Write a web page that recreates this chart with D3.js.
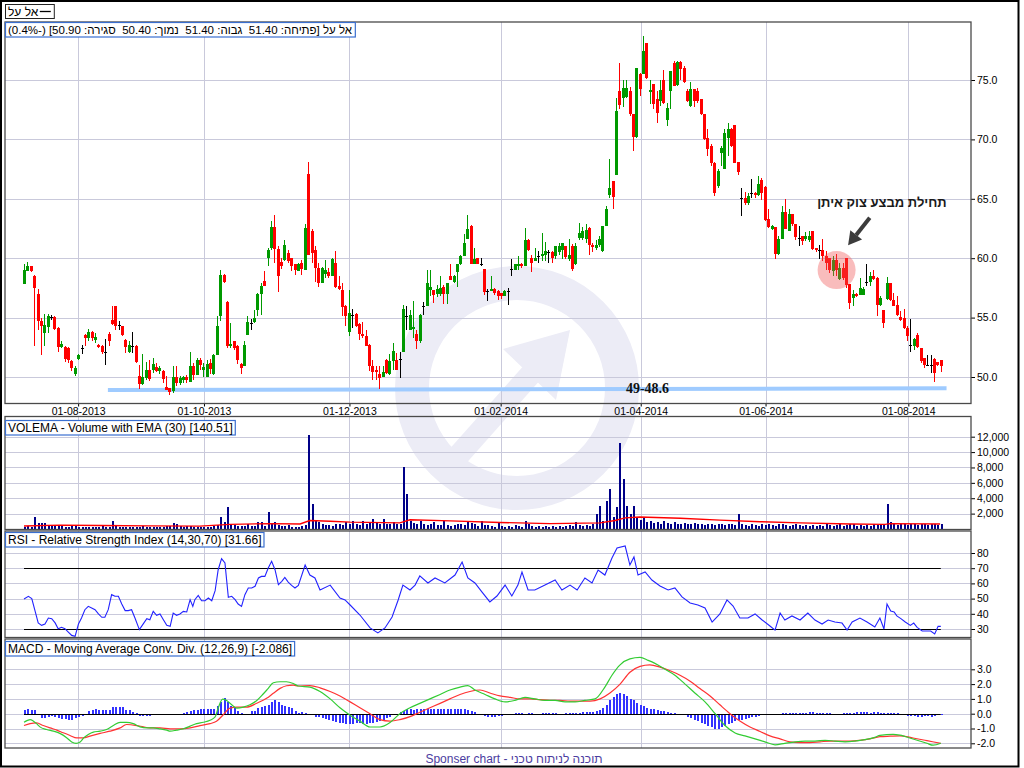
<!DOCTYPE html>
<html><head><meta charset="utf-8">
<script src="https://cdn.jsdelivr.net/npm/d3@7"></script>
<style>
body{margin:0;background:#fff}
svg{display:block}
text{font-family:"Liberation Sans",Arial,sans-serif}
</style>
</head><body><svg id="c" width="1024" height="768"></svg>
<script>
// ---------------- DATA ----------------
const openP=[
57.87,58.9,59.38,58.54,57.0,54.69,53.71,54.21,55.06,55.06,
54.13,52.53,52.53,52.47,51.35,50.28,51.52,52.44,53.54,53.26,
53.82,53.15,52.72,52.64,52.13,53.65,54.83,56.01,54.35,54.27,
53.15,52.08,52.58,52.64,50.11,49.38,49.92,50.56,50.62,50.81,
50.53,50.53,49.13,49.04,48.79,50.0,49.49,49.78,50.0,49.55,
50.96,50.17,51.46,50.56,50.0,51.18,50.28,51.88,55.11,58.62,
56.29,52.58,53.03,52.64,51.12,50.9,53.57,54.55,54.61,55.67,
57.02,58.06,60.03,60.87,62.61,60.79,59.66,59.83,60.45,60.03,
59.47,58.9,59.6,58.99,67.05,62.28,60.73,59.19,57.92,58.71,
58.82,58.54,59.6,57.7,57.36,56.01,53.76,55.2,55.34,54.47,
53.65,53.48,52.72,50.96,50.62,50.28,50.0,51.46,50.28,51.32,
51.46,51.55,52.08,55.11,53.99,54.0,53.62,53.0,55.95,55.95,
57.36,57.3,57.02,57.02,57.55,57.02,58.54,57.98,58.82,59.47,
60.22,61.63,62.75,59.55,60.0,59.55,59.05,57.27,57.22,57.42,
57.22,57.05,56.8,57.22,59.1,59.04,59.33,59.47,59.33,61.57,
60.03,59.8,60.17,60.17,60.28,60.5,60.5,60.17,60.5,60.7,
61.0,59.9,61.0,59.47,61.7,61.7,61.6,62.56,61.07,60.9,
61.15,60.59,62.75,65.28,66.49,66.97,74.07,73.51,73.6,74.07,
72.1,70.22,75.48,75.48,78.15,74.0,74.63,73.37,73.23,75.04,
71.63,74.07,76.46,74.6,76.52,76.04,74.07,72.81,74.27,74.07,
73.37,72.1,70.14,69.44,68.03,66.07,68.88,67.53,70.14,70.84,
71.18,68.09,65.08,65.08,64.66,65.5,65.5,65.28,66.57,66.01,
63.26,62.47,62.64,60.39,61.63,63.88,62.33,63.76,62.84,61.71,
61.85,61.63,61.57,62.28,60.87,60.73,60.73,60.17,60.03,58.9,
59.89,58.26,59.2,60.03,57.87,56.66,57.02,56.94,56.94,57.98,
57.98,58.54,58.34,56.1,55.67,56.57,57.92,56.52,56.1,55.06,
54.97,54.13,52.72,52.64,53.57,52.44,51.6,51.04,51.0,51.52,
51.24,51.4];
const highP=[
59.47,59.69,59.38,58.6,57.4,54.97,55.34,55.34,55.2,55.1,
54.2,53.0,52.6,52.5,51.46,50.9,51.97,52.72,53.6,54.07,
53.9,53.7,52.8,52.7,53.23,53.76,55.95,56.01,54.69,54.3,
53.2,53.0,53.82,52.7,51.04,51.97,51.24,51.46,51.6,51.18,
50.96,50.6,50.06,49.1,50.9,50.9,50.06,50.1,50.2,52.08,
51.18,51.6,51.6,51.18,51.4,51.52,51.97,55.11,58.99,58.7,
56.38,54.55,53.05,52.7,51.2,53.0,55.11,54.89,55.67,57.1,
57.92,58.9,60.87,63.12,63.6,61.0,60.03,61.52,60.73,60.03,
59.5,59.6,59.89,62.84,68.09,62.47,61.0,59.6,59.3,59.83,
59.19,60.03,60.59,58.48,57.92,56.1,57.36,55.73,55.39,54.55,
54.61,53.99,52.8,51.46,50.9,50.9,50.9,51.5,51.97,52.86,
52.0,52.08,56.1,55.95,55.67,56.38,53.99,55.3,56.29,58.99,
58.99,57.36,57.78,58.48,57.78,57.95,59.47,58.6,59.5,60.3,
62.0,63.6,62.8,60.87,60.03,60.03,59.05,57.42,58.54,57.5,
57.3,57.1,57.3,57.5,59.94,59.5,60.17,59.6,62.56,61.6,
60.31,60.87,60.59,62.08,61.4,60.67,60.6,61.0,61.3,61.3,
61.0,61.6,61.2,61.3,62.98,62.6,62.9,62.6,61.3,61.5,
61.85,62.75,64.38,68.37,66.5,73.51,76.46,75.04,75.0,74.4,
72.1,76.04,75.6,78.71,78.15,75.04,74.63,74.07,75.04,75.84,
73.09,75.76,76.6,76.6,76.6,76.18,74.21,74.83,74.27,74.35,
73.37,72.1,70.9,69.58,68.09,67.47,69.44,70.84,71.35,70.98,
71.18,68.09,65.93,65.56,65.5,66.63,65.6,66.91,66.77,66.07,
64.1,62.8,62.64,61.85,64.38,65.0,64.1,63.76,62.92,62.7,
61.85,62.19,62.3,62.28,60.9,61.15,61.63,60.6,60.03,60.17,
60.39,59.6,59.6,60.03,57.87,57.36,57.1,58.34,57.6,59.47,
58.82,59.04,58.43,56.8,55.67,58.43,57.92,57.08,56.8,55.53,
55.73,54.27,54.89,53.29,53.7,52.44,51.6,51.88,51.88,51.6,
51.3,51.4];
const lowP=[
57.87,58.9,58.8,52.58,53.99,51.88,52.58,53.7,54.8,53.99,
52.08,52.44,51.3,51.18,50.48,50.06,51.46,51.97,52.58,53.0,
53.0,52.86,52.4,51.97,50.98,52.64,54.41,53.99,53.99,53.48,
52.02,52.02,52.02,51.18,48.99,49.35,49.78,49.63,50.34,50.39,
50.28,49.49,48.9,48.48,48.65,49.21,49.35,49.5,49.49,49.55,
49.78,50.17,50.62,50.0,50.0,50.28,50.2,51.88,54.69,57.9,
52.44,52.42,52.3,51.12,50.28,50.9,53.5,53.99,54.55,55.11,
55.25,57.64,59.33,60.73,59.6,57.13,59.1,59.75,59.6,58.9,
58.62,58.9,58.62,58.99,60.31,59.6,57.98,57.58,57.9,58.34,
58.34,58.54,57.5,57.36,55.11,54.27,53.43,54.13,54.21,53.09,
53.29,52.58,50.48,49.78,49.78,48.99,50.0,50.28,50.2,50.62,
50.6,49.92,52.08,53.99,53.99,53.29,52.36,52.9,55.25,55.95,
56.8,56.24,56.74,56.8,56.18,56.18,58.15,57.9,57.58,59.4,
60.2,61.6,59.47,59.47,59.47,59.38,56.94,56.38,57.2,56.9,
56.46,56.6,56.8,56.1,58.54,59.0,59.04,59.19,59.33,60.59,
58.82,59.8,59.6,59.75,59.8,59.6,59.6,59.9,60.3,59.9,
59.9,59.8,58.9,59.4,61.57,61.5,61.3,60.31,60.5,60.7,
60.93,60.5,62.7,65.1,64.1,66.97,72.6,72.76,73.5,72.0,
69.02,70.14,73.65,75.48,75.1,72.95,72.53,71.4,72.81,72.95,
71.12,72.53,74.49,74.49,75.04,74.77,73.15,72.76,72.76,73.09,
72.02,69.94,68.6,67.75,65.22,65.93,67.75,67.47,68.6,69.38,
67.98,66.97,63.54,64.52,64.52,65.08,65.1,65.22,64.94,63.12,
62.56,62.4,59.94,60.31,61.63,62.42,62.28,62.7,61.57,61.0,
61.07,61.43,61.4,60.67,60.5,59.94,59.75,59.04,58.76,58.54,
58.48,58.2,58.2,57.5,55.73,55.95,56.7,56.94,56.9,57.7,
57.64,58.2,55.17,56.0,54.13,56.46,56.38,55.95,55.17,54.69,
54.04,53.0,52.08,52.3,52.44,51.18,50.76,50.9,50.34,49.55,
50.9,50.4];
const closeP=[
58.99,59.38,58.93,57.47,54.69,54.27,54.41,55.11,55.06,54.07,
52.53,52.81,51.52,51.4,50.76,50.76,51.88,52.44,53.26,53.82,
53.26,53.34,52.53,52.08,52.13,53.0,54.49,54.33,54.35,53.54,
52.5,52.67,52.58,51.29,49.38,49.97,50.56,49.83,51.12,50.53,
50.79,49.83,48.93,48.71,50.0,49.49,49.92,50.0,49.72,50.96,
50.2,51.46,51.01,50.84,51.12,50.7,51.88,54.33,58.62,57.98,
52.58,52.81,52.44,51.4,50.73,52.72,54.61,54.55,54.97,57.02,
57.64,57.7,60.65,62.61,60.79,58.48,59.38,61.07,59.75,59.33,
58.99,59.47,59.1,62.56,60.31,60.45,59.19,57.92,59.19,58.99,
58.54,59.94,57.58,57.42,55.9,55.11,55.39,55.2,54.27,53.65,
53.43,52.64,50.9,50.39,50.39,49.92,50.39,50.34,51.32,52.16,
50.62,51.55,55.76,55.11,55.25,54.2,53.0,55.25,55.95,57.92,
57.55,56.89,57.42,57.5,57.02,57.92,58.2,58.54,59.47,60.22,
61.24,62.5,59.55,59.94,59.55,59.55,57.13,57.27,57.42,57.08,
56.8,56.8,57.22,57.22,59.1,59.47,59.47,59.33,61.57,60.67,
59.6,60.03,60.17,60.39,60.62,60.5,60.0,61.0,61.0,61.3,
60.1,60.3,59.1,61.0,62.13,62.28,62.4,61.07,60.96,61.15,
61.63,62.75,64.16,65.93,65.17,72.39,72.87,74.35,74.3,72.1,
70.22,76.04,74.21,77.44,75.2,74.2,72.95,72.19,74.2,73.03,
72.67,75.76,74.49,76.52,75.95,74.83,73.23,74.27,73.23,73.23,
72.1,70.0,69.16,68.03,65.45,67.33,69.3,70.56,70.9,69.44,
68.03,67.25,65.08,64.66,65.22,65.5,65.28,66.21,65.45,63.2,
62.64,62.7,60.39,61.63,63.88,62.47,63.76,62.84,61.8,61.71,
61.43,61.85,61.9,60.79,60.7,60.73,60.17,59.6,59.04,59.89,
58.99,59.19,58.3,57.78,56.24,57.02,56.85,57.5,57.42,57.98,
58.54,58.26,56.1,56.66,54.55,57.92,56.46,56.01,55.25,54.83,
54.13,53.43,52.72,53.2,52.53,51.32,51.04,51.04,51.0,50.34,
51.04,50.9];

const volume=[
300,350,250,1590,810,810,810,390,520,520,
390,390,300,300,390,390,300,250,250,250,
250,250,250,390,250,250,1070,520,300,300,
300,300,250,300,300,390,250,250,250,250,
300,300,390,390,770,650,390,300,390,390,
300,300,300,300,300,300,390,520,1590,940,
2840,520,520,390,390,390,710,390,390,940,
940,390,2230,810,940,520,390,390,520,300,
300,300,400,500,12200,3300,1200,900,700,500,
500,400,600,700,500,900,700,1000,600,500,
1000,600,800,1300,800,600,1300,700,600,900,
700,600,8000,4500,1000,800,600,1000,700,500,
700,900,500,500,1000,500,400,500,600,700,
500,1000,800,600,400,1000,500,500,400,300,
900,400,300,400,300,500,400,300,1000,600,
400,300,400,300,400,300,400,300,400,300,
400,500,400,900,500,400,500,400,700,2000,
3000,1000,3600,5200,1500,2800,11200,6500,3000,2000,
3000,1500,1200,1600,900,1000,800,900,700,1000,
800,700,900,700,600,800,700,600,800,700,
600,500,700,600,500,700,600,500,700,600,
500,1900,600,500,400,600,500,400,600,500,
700,500,400,600,700,500,400,500,700,500,
400,500,400,500,400,500,400,700,500,400,
500,600,400,500,600,700,400,500,400,500,
400,600,500,700,500,3300,900,600,500,600,
700,500,600,700,500,600,700,500,600,700,
500,600];
// volume EMA(30): [candle index, value]
const volEma=[[0,390],[10.6,500],[22.5,450],[37.2,400],[52,380],[60.9,600],[72.7,700],[81.6,650],[84.5,1100],[90.5,1000],[96.4,900],[111.1,800],[114.1,1200],[126,1050],[140.7,850],[155.5,700],[170.3,800],[174.7,1100],[177.7,1450],[182,1560],[194,1400],[205.7,1150],[217.6,950],[229.4,800],[244.2,650],[254.5,600],[256,700],[270.8,650]];

// RSI(14): [candle index, value]
const rsi=[[0,49.7],[1.3,51.5],[2.3,50],[3.3,41.6],[4.2,34],[5.2,32.4],[6.2,33.3],[7.2,37.2],[8.2,36.8],[9.2,34],[10.1,30.2],[11.1,31.1],[12.1,30.2],[13.1,28],[14.1,25.8],[15.1,25.2],[16.1,33.3],[17,37.2],[18,42.7],[19,44.9],[20,43.8],[21,42.7],[22,39.9],[23,37.7],[23.9,37.7],[24.9,42.7],[25.9,52.6],[26.9,51.5],[27.9,51.5],[28.9,46.4],[29.9,42.1],[30.8,42.1],[31.8,42.7],[32.8,37.2],[34.1,29.6],[35.1,32.9],[36.3,36.8],[37.2,36.1],[38.2,41.6],[39.2,39],[40.2,39.9],[41.2,36.1],[42.2,32.4],[43.2,31.8],[44.1,40.5],[45.1,39],[46.1,39.9],[47.1,41.6],[48.1,41.2],[49.1,49.3],[49.9,44.9],[50.5,49.3],[51.5,52.1],[52.5,48.6],[53.5,48.6],[54.5,50.4],[55.5,48.6],[56.5,55.2],[57.4,69],[58.4,76.3],[59.4,73.4],[60.4,50.8],[61.4,51.5],[62.4,49.3],[63.3,46.4],[64.3,44.9],[65.3,52.6],[66.3,57],[67.3,57],[68.3,58.1],[69.3,63.6],[70.2,64.6],[71.2,64.6],[72.2,70.1],[73.2,74.5],[74.2,69],[75.2,59.2],[76.2,61.4],[77.1,64],[78.1,60.9],[79.1,58.7],[80.1,57],[81.1,58.7],
[83.1,72.1],[84.5,65.5],[86,63.6],[87.5,55.7],[90.5,58.9],[93.4,50.4],[94.9,49.1],[96.4,45.8],[99.3,39.2],[102.3,30.7],[104.6,27.4],[106.7,30.7],[108.8,37.9],[110.6,49.1],[112,58.9],[114.1,55.7],[115.6,58.9],[117,64.9],[119.4,60.3],[121.5,63.6],[124.4,60.3],[127.4,65.5],[129.5,74.1],[131.2,63.6],[133.3,60.3],[135.4,54.3],[137.7,47.8],[139.8,51.7],[142.2,58.9],[144.2,51.7],[146,58.9],[147.2,67.5],[149,55.7],[151,55.7],[154,58.9],[157,62.2],[159,55.7],[161.4,58.9],[163.5,55.7],[165.8,63.6],[167.9,60.3],[169.7,68.8],[171.7,65.5],[173.8,76.7],[175.3,83.3],[177.7,84.6],[179.1,72.1],[180.3,77.4],[181.5,65.5],[183.6,67.5],[185.6,62.2],[188,58.3],[190.4,55.7],[192.4,57],[194.5,51.1],[196.9,47.1],[199.2,45.8],[201.3,43.8],[203.4,34.6],[205.7,39.9],[207.8,49.1],[209.6,45.1],[211.6,37.2],[214,37.2],[216.1,39.9],[218.2,35.9],[220.5,32],[222,29.3],[223.5,40.5],[224.9,35.9],[227,38.6],[229.4,35.9],[231.7,40.5],[233.8,35.9],[235.9,33.3],[237.7,35.9],[239.7,34.6],[241.8,33.9],[243.3,29.3],[244.8,34.6],[247.1,37.2],[249.2,34.6],[251.5,31.3],[253,37.2],[254.2,30],[255.1,46.4],[256.2,41.8],[257.2,41.2],[258,38.6],[259.2,36.8],[260.5,34.6],[262,32.4],[263,33.9],[264,31.1],[265.5,28.7],[268,28.7],[269.2,26.7],[270.2,31.8],[271,31.7]];

// MACD(12,26,9): [candle index, value]
const macdLine=[[0,-0.58],[1.8,-0.4],[2.8,-0.51],[3.7,-0.67],[4.7,-0.89],[6.7,-1.07],[8.7,-1.18],[10.6,-1.33],[12.6,-1.62],[14.1,-1.91],[15.4,-2.0],[16.6,-1.91],[17.7,-1.62],[19,-1.4],[20.5,-1.24],[22.5,-1.18],[24.4,-1.07],[26.4,-0.8],[28.4,-0.58],[30.3,-0.58],[32.3,-0.67],[34.3,-0.89],[36.3,-0.96],[38.2,-0.96],[40.2,-1.02],[42.2,-1.11],[43.2,-1.18],[45.1,-1.11],[47.1,-1.02],[49.1,-0.84],[51,-0.67],[53,-0.58],[55,-0.44],[56.5,-0.22],[57.4,0.38],[58.7,0.98],[59.9,0.89],[61.4,0.6],[62.9,0.38],[64.8,0.44],[66.8,0.6],[68.8,0.89],[70.7,1.33],[72.2,1.71],[73.7,2.09],[75.7,2.16],[77.6,2.16],[79.6,2.04],[81.1,1.87],
[84.5,1.8],[87.5,1.5],[90.5,1.0],[93.4,0.4],[96.4,-0.1],[99.3,-0.5],[102.3,-0.9],[105.2,-0.9],[108.2,-0.6],[111.1,0.0],[114.1,0.4],[117,0.7],[120,1.0],[123,1.3],[125.9,1.6],[128.9,1.8],[131.2,1.9],[133.3,1.6],[136.3,1.3],[139.2,1.0],[142.2,0.8],[145.1,0.9],[148.1,1.1],[151,1.0],[154,0.9],[157,0.9],[159.9,0.8],[162.9,0.8],[165.8,0.9],[168.8,1.0],[171.7,1.8],[173.8,2.6],[176.2,3.3],[179.1,3.7],[182.1,3.8],[184.5,3.6],[186.5,3.4],[189.5,3.0],[192.4,2.6],[195.4,2.0],[198.3,1.4],[201.3,0.8],[204.3,0.0],[207.2,-0.8],[210.2,-1.3],[213.1,-1.5],[216.1,-1.7],[219,-1.9],[222,-2.1],[224.9,-2.0],[227.9,-1.9],[230.9,-1.85],[233.8,-1.85],[236.8,-1.8],[239.7,-1.85],[242.7,-1.9],[245.6,-1.85],[248.6,-1.75],[251.5,-1.6],[253,-1.47],[256.9,-1.4],[258.9,-1.45],[262.8,-1.71],[266.9,-2.0],[268.7,-2.13],[271,-2.0]];
const signalLine=[[0,-0.8],[1.8,-0.67],[3.7,-0.62],[5.7,-0.8],[7.7,-0.96],[9.7,-1.11],[11.6,-1.29],[13.6,-1.47],[15.6,-1.64],[17.5,-1.64],[19.5,-1.51],[22.5,-1.33],[25.4,-1.18],[28.4,-0.96],[30.3,-0.73],[33.3,-0.8],[35.3,-0.89],[37.2,-0.96],[40.2,-0.96],[43.2,-1.02],[46.1,-1.02],[49.1,-0.96],[52,-0.8],[55,-0.67],[56.9,-0.51],[58.9,-0.07],[60.9,0.38],[62.9,0.44],[65.8,0.44],[68.8,0.71],[71.7,1.04],[73.7,1.38],[75.7,1.71],[77.6,1.89],[79.6,1.93],[81.1,1.87],
[84.5,1.9],[87.5,1.75],[90.5,1.5],[93.4,1.2],[96.4,0.8],[99.3,0.4],[102.3,0.0],[105.2,-0.4],[108.2,-0.5],[111.1,-0.4],[114.1,-0.2],[117,0.1],[120,0.4],[123,0.7],[125.9,1.0],[128.9,1.3],[131.8,1.5],[134.8,1.6],[137.7,1.4],[140.7,1.2],[143.7,1.1],[146.6,1.0],[149.6,1.0],[152.5,0.95],[155.5,0.9],[158.4,0.9],[161.4,0.85],[164.3,0.85],[167.3,0.85],[170.3,1.0],[173.2,1.4],[176.2,2.0],[179.1,2.8],[182.1,3.2],[185,3.3],[188,3.15],[191,2.9],[193.9,2.6],[196.9,2.2],[199.8,1.7],[202.8,1.2],[205.7,0.6],[208.7,0.0],[211.6,-0.5],[214.6,-0.9],[217.6,-1.2],[220.5,-1.5],[223.5,-1.7],[226.4,-1.9],[229.4,-1.95],[232.3,-1.95],[235.3,-1.9],[238.3,-1.85],[241.2,-1.85],[244.2,-1.85],[247.1,-1.8],[250.1,-1.7],[253,-1.55],[256,-1.52],[258.9,-1.5],[262.8,-1.64],[266.9,-1.82],[271,-2.0]];
const macdHist=[
0.27,0.31,0.27,0.22,0,-0.29,-0.29,-0.24,-0.18,-0.24,
-0.29,-0.36,-0.36,-0.4,-0.4,-0.29,-0.22,-0.13,0,0.16,
0.27,0.31,0.27,0.22,0.22,0.27,0.42,0.44,0.44,0.42,
0.27,0.22,0.09,0.02,-0.13,-0.18,-0.13,-0.13,-0.07,0,
0,0,-0.07,-0.07,0,0,0,0.04,0.09,0.16,
0.22,0.27,0.31,0.31,0.31,0.31,0.31,0.53,0.76,1.04,
0.82,0.53,0.38,0.16,0.02,-0.07,0,0.16,0.16,0.38,
0.44,0.49,0.6,0.76,0.93,0.82,0.6,0.49,0.44,0.38,
0.16,0.04,0.1,0.05,0,-0.1,-0.2,-0.25,-0.3,-0.35,
-0.45,-0.5,-0.55,-0.6,-0.65,-0.7,-0.7,-0.7,-0.65,-0.65,
-0.7,-0.7,-0.65,-0.6,-0.55,-0.5,-0.4,-0.3,-0.2,-0.1,
0,0.1,0.2,0.3,0.3,0.25,0.3,0.3,0.3,0.35,
0.35,0.35,0.3,0.3,0.3,0.35,0.35,0.3,0.3,0.35,
0.3,0.25,0.2,0.1,0,-0.1,-0.15,-0.2,-0.2,-0.2,
-0.15,-0.15,-0.1,-0.05,0,0.05,0.05,0.05,0,0.05,
0.05,0,0,0.05,0.05,0.05,0.05,0.05,0,0,
0.05,0.05,0.05,0.05,0.05,0.1,0.1,0.1,0.1,0.15,
0.25,0.4,0.6,0.9,1.1,1.3,1.4,1.3,1.2,1.0,
0.9,0.7,0.6,0.5,0.4,0.35,0.3,0.25,0.2,0.15,
0.1,0.05,0.05,0,-0.05,-0.1,-0.2,-0.3,-0.4,-0.5,
-0.6,-0.7,-0.8,-0.9,-1.0,-1.0,-0.9,-0.8,-0.7,-0.6,
-0.5,-0.45,-0.4,-0.35,-0.3,-0.25,-0.2,-0.15,-0.1,-0.05,
-0.05,0,0,0,0.05,0.05,0.05,0.05,0.05,0.05,
0.05,0.05,0.1,0.1,0.05,0.05,0.05,0.05,0.05,0,
0,0,0.05,0.05,0.05,0.05,0.1,0.1,0.1,0.1,
0.05,0.1,0.1,0.07,0.07,0.07,0.07,0.07,0.05,0,
-0.1,-0.15,-0.18,-0.18,-0.2,-0.2,-0.18,-0.18,-0.2,-0.15,
-0.12,-0.1];

// axis ticks / labels
const dateTickIdx=[16,53.2,96.2,140.9,182.3,219.2,261.4];
const dateTickLabels=["01-08-2013","01-10-2013","01-12-2013","01-02-2014","01-04-2014","01-06-2014","01-08-2014"];
const priceTicks=[50,55,60,65,70,75];
const volTicks=[2000,4000,6000,8000,10000,12000];
const rsiTicks=[30,40,50,60,70,80];
const macdTicks=[-2,-1,0,1,2,3];
const rsiLevels=[30,70];

// annotations (data space)
const supportLine=[[24.8,48.9],[272.7,49.05]];
const supportLabel={idx:184.3,price:48.65,text:"49-48.6"};
const eventMark={idx:240.2,price:59.0};
const eventArrow={fromIdx:250,fromPrice:63.4,toIdx:243.6,toPrice:61.1};
const eventLabel={idx:253.6,price:64.31,text:"תחילת מבצע צוק איתן"};

const titleMain="אל על [פתיחה: 51.40  גבוה: 51.40  נמוך: 50.40  סגירה: 50.90] (-0.4%)";
const titleVol="VOLEMA - Volume with EMA (30) [140.51]";
const titleRsi="RSI - Relative Strength Index (14,30,70) [31.66]";
const titleMacd="MACD - Moving Average Conv. Div. (12,26,9) [-2.086]";
const legendName="אל על";
const credit="Sponser chart - תוכנה לניתוח טכני";

// ---------------- DRAW ----------------
const svg=d3.select("#c");
const loc=d3.formatLocale({decimal:".",thousands:",",grouping:[3],currency:["",""],minus:"-"});
const n=closeP.length;
const L=5,R=971;
const P={main:{t:22,b:403.5},vol:{t:416.5,b:529.5},rsi:{t:531,b:637.5},macd:{t:639,b:748}};
const x=d3.scaleLinear().domain([0,n-1]).range([24,940.8]);
const yP=d3.scaleLinear().domain([50,75]).range([377,80]);
const yV=d3.scaleLinear().domain([0,12000]).range([529,436.7]);
const yR=d3.scaleLinear().domain([30,80]).range([629,553]);
const yM=d3.scaleLinear().domain([-2,3]).range([743.3,669.3]);
const GRID="#c9c9db";
const WM="#ececf6";

svg.append("rect").attr("width",1024).attr("height",768).attr("fill","#fff");

// watermark logo
const wm=svg.append("g").attr("fill","none").attr("stroke",WM);
wm.append("circle").attr("cx",517).attr("cy",388).attr("r",105).attr("stroke-width",34);
wm.append("line").attr("x1",450).attr("y1",465).attr("x2",546).attr("y2",357).attr("stroke-width",22);
wm.append("path").attr("d","M570,330 L503,349 L556,400 Z").attr("fill",WM).attr("stroke","none");

function panel(p,y,ticks,fmt){
  const g=svg.append("g");
  g.selectAll("line.h").data(ticks).join("line").attr("x1",L).attr("x2",R)
    .attr("y1",d=>Math.round(y(d))+0.5).attr("y2",d=>Math.round(y(d))+0.5).attr("stroke",GRID);
  g.selectAll("line.v").data(dateTickIdx).join("line").attr("y1",p.t).attr("y2",p.b)
    .attr("x1",d=>Math.round(x(d))+0.5).attr("x2",d=>Math.round(x(d))+0.5).attr("stroke",GRID);
  const ax=svg.append("g").attr("transform",`translate(${R},0)`)
    .call(d3.axisRight(y).tickValues(ticks).tickFormat(fmt).tickSize(4).tickPadding(2));
  ax.select(".domain").remove();
  ax.attr("font-family","Liberation Sans, Arial, sans-serif").attr("font-size",10.5);
  ax.selectAll("text").attr("fill","#000");
  ax.selectAll("line").attr("stroke","#000");
}
panel(P.main,yP,priceTicks,loc.format(".1f"));
panel(P.vol,yV,volTicks,loc.format(","));
panel(P.rsi,yR,rsiTicks,loc.format("d"));
panel(P.macd,yM,macdTicks,loc.format(".1f"));

// date axis
const dax=svg.append("g").attr("transform",`translate(0,${P.main.b})`)
  .call(d3.axisBottom(x).tickValues(dateTickIdx).tickFormat((d,i)=>dateTickLabels[i]).tickSize(3).tickPadding(1));
dax.select(".domain").remove();
dax.attr("font-family","Liberation Sans, Arial, sans-serif").attr("font-size",10.5);
dax.selectAll("text").attr("fill","#000");
dax.selectAll("line").attr("stroke","#000");

// support line
svg.append("path").datum(supportLine).attr("fill","none").attr("stroke","#9fcbff").attr("stroke-width",4)
  .attr("d",d3.line().x(d=>x(d[0])).y(d=>yP(d[1])));

// candles
const col=i=>closeP[i]>openP[i]?"#009900":closeP[i]<openP[i]?"#ff0000":"#000000";
const cg=svg.append("g").attr("shape-rendering","crispEdges");
const idx=d3.range(n);
cg.selectAll("line").data(idx).join("line")
  .attr("x1",i=>Math.round(x(i))+0.5).attr("x2",i=>Math.round(x(i))+0.5)
  .attr("y1",i=>yP(highP[i])).attr("y2",i=>yP(lowP[i])).attr("stroke",col);
cg.selectAll("rect").data(idx).join("rect")
  .attr("x",i=>Math.round(x(i))-1).attr("width",3)
  .attr("y",i=>yP(Math.max(openP[i],closeP[i])))
  .attr("height",i=>Math.max(1,yP(Math.min(openP[i],closeP[i]))-yP(Math.max(openP[i],closeP[i]))))
  .attr("fill",col);

// event marker
svg.append("circle").attr("cx",x(eventMark.idx)).attr("cy",yP(eventMark.price)).attr("r",19)
  .attr("fill","rgba(238,80,80,0.38)");
{
  const x1=x(eventArrow.fromIdx),y1=yP(eventArrow.fromPrice),x2=x(eventArrow.toIdx),y2=yP(eventArrow.toPrice);
  const len=Math.hypot(x2-x1,y2-y1),ux=(x2-x1)/len,uy=(y2-y1)/len,px=-uy,py=ux;
  const bx=x2-ux*13,by=y2-uy*13;
  svg.append("line").attr("x1",x1).attr("y1",y1).attr("x2",bx).attr("y2",by).attr("stroke","#3c3c3c").attr("stroke-width",4);
  svg.append("path").attr("fill","#3c3c3c")
    .attr("d",`M${x2},${y2} L${bx+px*7.5},${by+py*7.5} L${bx-px*7.5},${by-py*7.5} Z`);
}
svg.append("text").attr("x",x(eventLabel.idx)).attr("y",yP(eventLabel.price)).attr("text-anchor","middle")
  .attr("direction","rtl").attr("font-weight","bold").attr("font-size",13).attr("fill","#1a1a1a").text(eventLabel.text);
svg.append("text").attr("x",x(supportLabel.idx)).attr("y",yP(supportLabel.price)).attr("text-anchor","middle")
  .style("font-family","'Liberation Serif','Times New Roman',serif").attr("font-weight","bold").attr("font-size",14).attr("fill","#111").text(supportLabel.text);

// volume
const vg=svg.append("g").attr("shape-rendering","crispEdges");
vg.selectAll("rect").data(idx).join("rect")
  .attr("x",i=>Math.round(x(i))-0.5).attr("width",2)
  .attr("y",i=>yV(volume[i])).attr("height",i=>yV(0)-yV(volume[i])).attr("fill","#000088");
svg.append("path").datum(volEma).attr("fill","none").attr("stroke","#ff0000").attr("stroke-width",1.4)
  .attr("d",d3.line().x(d=>x(d[0])).y(d=>yV(d[1])));

// RSI
svg.selectAll("line.lvl").data(rsiLevels).join("line").attr("x1",x(0)).attr("x2",x(n-1))
  .attr("y1",d=>Math.round(yR(d))+0.5).attr("y2",d=>Math.round(yR(d))+0.5).attr("stroke","#000");
svg.append("path").datum(rsi).attr("fill","none").attr("stroke","#2222ff").attr("stroke-width",1.1)
  .attr("d",d3.line().x(d=>x(d[0])).y(d=>yR(d[1])));

// MACD
const mg=svg.append("g").attr("shape-rendering","crispEdges");
mg.selectAll("rect").data(idx).join("rect")
  .attr("x",i=>Math.round(x(i))-0.5).attr("width",2)
  .attr("y",i=>Math.min(yM(0),yM(macdHist[i]))).attr("height",i=>Math.abs(yM(macdHist[i])-yM(0)))
  .attr("fill","#3333ff");
svg.append("line").attr("x1",x(0)).attr("x2",x(n-1)).attr("y1",Math.round(yM(0))+0.5).attr("y2",Math.round(yM(0))+0.5).attr("stroke","#000");
svg.append("path").datum(signalLine).attr("fill","none").attr("stroke","#ff3333").attr("stroke-width",1.2)
  .attr("d",d3.line().curve(d3.curveMonotoneX).x(d=>x(d[0])).y(d=>yM(d[1])));
svg.append("path").datum(macdLine).attr("fill","none").attr("stroke","#33cc33").attr("stroke-width",1.2)
  .attr("d",d3.line().curve(d3.curveMonotoneX).x(d=>x(d[0])).y(d=>yM(d[1])));

// panel borders
Object.values(P).forEach(p=>{
  svg.append("rect").attr("x",L).attr("y",p.t).attr("width",R-L).attr("height",p.b-p.t)
    .attr("fill","none").attr("stroke","#4a4a4a").attr("stroke-width",1.3);
});

// title boxes
function titleBox(str,yTop,rtl,fs){
  const g=svg.append("g");
  const r=g.append("rect");
  const t=g.append("text").attr("y",yTop+11.8).attr("font-size",fs).attr("fill","#000").style("white-space","pre").text(str);
  if(rtl) t.attr("direction","rtl").attr("text-anchor","middle").attr("x",200); else t.attr("x",8);
  const bb=t.node().getBBox();
  t.attr("transform",`translate(${8-bb.x},0)`);
  r.attr("x",5.5).attr("y",yTop+0.5).attr("width",bb.width+5).attr("height",14.5)
   .attr("fill","#fff").attr("stroke","#3a6fd0").attr("stroke-width",1.2);
}
titleBox(titleMain,22,true,11.5);
titleBox(titleVol,420,false,12);
titleBox(titleRsi,532,false,12);
titleBox(titleMacd,641,false,12);

// legend box top-left
{
  const g=svg.append("g");
  const r=g.append("rect");
  const t=g.append("text").attr("y",16).attr("font-size",12).attr("direction","rtl").attr("text-anchor","middle").attr("x",100).text(legendName);
  const bb=t.node().getBBox();
  t.attr("transform",`translate(${8-bb.x},0)`);
  g.append("line").attr("x1",8+bb.width+1).attr("x2",8+bb.width+12).attr("y1",11.5).attr("y2",11.5).attr("stroke","#000").attr("stroke-width",1.3);
  r.attr("x",5.5).attr("y",4.5).attr("width",bb.width+18).attr("height",14).attr("fill","#fff").attr("stroke","#222");
}

// credit
svg.append("text").attr("x",514).attr("y",763).attr("text-anchor","middle").attr("font-size",12)
  .attr("fill","#4b3ca0").text(credit);

// outer frame
svg.append("rect").attr("x",1).attr("y",1).attr("width",1017.5).attr("height",765.5)
  .attr("fill","none").attr("stroke","#000").attr("stroke-width",2);
</script>
</body></html>
